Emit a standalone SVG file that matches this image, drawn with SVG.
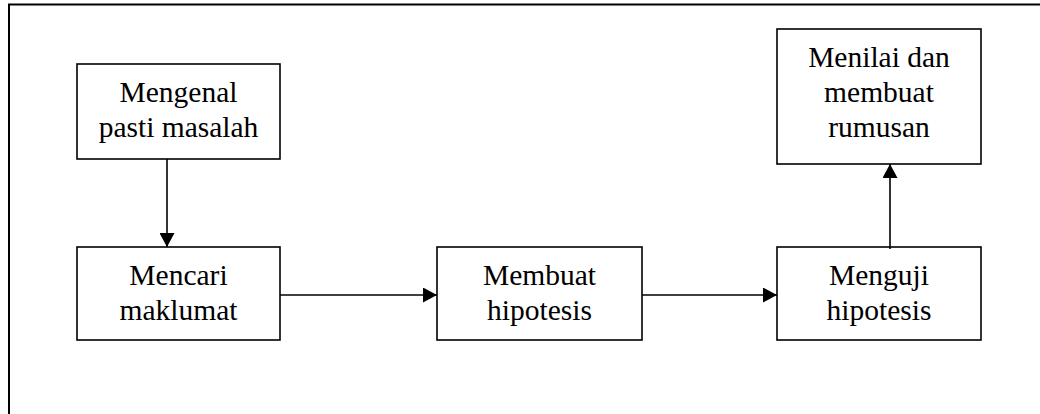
<svg xmlns="http://www.w3.org/2000/svg" width="1040" height="414" viewBox="0 0 1040 414">
<style>
.box{fill:#fff;stroke:#000;stroke-width:1.6}
.t{font-family:"Liberation Serif","Times New Roman",serif;font-size:29.5px;fill:#000;text-anchor:middle}
.c{stroke:#000;stroke-width:1.6;fill:none}
.frame{stroke:#000;stroke-width:2;fill:none}
</style>
<defs>
<marker id="ah" markerWidth="15" markerHeight="15" refX="14" refY="7.5" orient="auto" markerUnits="userSpaceOnUse">
<path d="M0,0 L14,7.5 L0,15 Z" fill="#000"/>
</marker>
</defs>
<rect width="1040" height="414" fill="#fff"/>
<path class="frame" d="M9,414 V4.5 H1040"/>
<g id="n1"><rect class="box" x="77" y="64" width="203" height="95"/><text class="t" x="178.5" y="102">Mengenal</text><text class="t" x="178.5" y="137">pasti masalah</text></g>
<g id="n2"><rect class="box" x="77" y="247" width="203" height="93"/><text class="t" x="178.5" y="285">Mencari</text><text class="t" x="178.5" y="320">maklumat</text></g>
<g id="n3"><rect class="box" x="437" y="247" width="205" height="93"/><text class="t" x="539.5" y="285">Membuat</text><text class="t" x="539.5" y="320">hipotesis</text></g>
<g id="n4"><rect class="box" x="777" y="247" width="204" height="93"/><text class="t" x="879" y="285">Menguji</text><text class="t" x="879" y="320">hipotesis</text></g>
<g id="n5"><rect class="box" x="777" y="29" width="204" height="135"/><text class="t" x="879" y="67">Menilai dan</text><text class="t" x="879" y="102">membuat</text><text class="t" x="879" y="137">rumusan</text></g>
<g id="connectors">
<line class="c" x1="167" y1="159" x2="167" y2="247" marker-end="url(#ah)"/>
<line class="c" x1="280" y1="295" x2="437" y2="295" marker-end="url(#ah)"/>
<line class="c" x1="642" y1="295" x2="777" y2="295" marker-end="url(#ah)"/>
<line class="c" x1="890" y1="249" x2="890" y2="164" marker-end="url(#ah)"/>
</g>
</svg>
